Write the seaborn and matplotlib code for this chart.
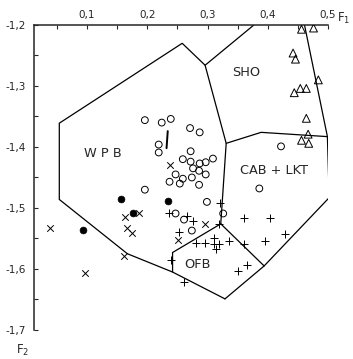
import numpy as np
import pandas as pd
import seaborn as sns
import matplotlib.pyplot as plt
from matplotlib.ticker import FixedLocator

# F1 - F2 discrimination diagram (WPB / SHO / CAB+LKT / OFB fields)

# ---- sample points ----
tri_f1 = [0.456, 0.476, 0.442, 0.446, 0.484, 0.444, 0.454, 0.464, 0.464, 0.467, 0.456, 0.468]
tri_f2 = [-1.207, -1.205, -1.246, -1.256, -1.290, -1.311, -1.304, -1.304, -1.353, -1.379, -1.389, -1.394]

open_f1 = [0.196, 0.224, 0.239, 0.271, 0.287, 0.219, 0.219, 0.272, 0.259, 0.272,
           0.287, 0.297, 0.309, 0.276, 0.286, 0.247, 0.297, 0.259, 0.274, 0.237,
           0.254, 0.286, 0.196, 0.422, 0.386, 0.299, 0.326, 0.247, 0.261, 0.274]
open_f2 = [-1.356, -1.360, -1.354, -1.369, -1.376, -1.396, -1.409, -1.407, -1.420, -1.424,
           -1.427, -1.425, -1.419, -1.435, -1.439, -1.445, -1.445, -1.452, -1.450, -1.457,
           -1.460, -1.462, -1.470, -1.399, -1.468, -1.490, -1.509, -1.509, -1.519, -1.537]

filled_f1 = [0.094, 0.156, 0.176, 0.234]
filled_f2 = [-1.536, -1.486, -1.508, -1.489]

cross_f1 = [0.039, 0.097, 0.163, 0.187, 0.167, 0.174, 0.162, 0.238, 0.296, 0.251]
cross_f2 = [-1.532, -1.606, -1.514, -1.509, -1.532, -1.541, -1.578, -1.429, -1.527, -1.552]

plus_f1 = [0.236, 0.266, 0.276, 0.320, 0.319, 0.252, 0.281, 0.296, 0.311, 0.311, 0.319,
           0.314, 0.336, 0.361, 0.404, 0.360, 0.395, 0.429, 0.351, 0.366, 0.261, 0.239]
plus_f2 = [-1.509, -1.513, -1.522, -1.492, -1.527, -1.539, -1.557, -1.558, -1.549, -1.559, -1.559,
           -1.567, -1.554, -1.517, -1.517, -1.559, -1.554, -1.542, -1.603, -1.593, -1.621, -1.586]

# odd little stroke next to the stacked circles
stroke_f1 = [0.234, 0.232]
stroke_f2 = [-1.374, -1.402]

# ---- field boundaries (polylines) ----
boundaries = [
    # outer left / top boundary, up to the axis
    ([0.329, 0.242, 0.167, 0.054, 0.054, 0.258, 0.296, 0.377],
     [-1.649, -1.605, -1.575, -1.486, -1.361, -1.230, -1.266, -1.200]),
    # WPB / SHO and WPB / CAB
    ([0.296, 0.331, 0.322], [-1.266, -1.394, -1.526]),
    # SHO / CAB
    ([0.331, 0.389, 0.499], [-1.394, -1.376, -1.383]),
    # outer right boundary
    ([0.461, 0.499, 0.502, 0.394, 0.329], [-1.200, -1.383, -1.483, -1.595, -1.649]),
    # CAB / OFB
    ([0.322, 0.394], [-1.526, -1.595]),
    # OFB / WPB
    ([0.322, 0.242, 0.242], [-1.526, -1.573, -1.605]),
]

field_names = ['W P B', 'SHO', 'CAB + LKT', 'OFB']
field_f1 = [0.127, 0.364, 0.411, 0.283]
field_f2 = [-1.410, -1.278, -1.438, -1.593]

xticks = [0.1, 0.2, 0.3, 0.4, 0.5]
xtick_labels = ['0,1', '0,2', '0,3', '0,4', '0,5']
yticks = [-1.2, -1.3, -1.4, -1.5, -1.6, -1.7]
ytick_labels = ['-1,2', '-1,3', '-1,4', '-1,5', '-1,6', '-1,7']

sns.set_style('ticks')
plt.rcParams['font.family'] = ['DejaVu Sans']

fig = plt.figure(figsize=(3.53, 3.59), dpi=100)
ax = fig.add_axes([0.0963, 0.0808, 0.8329, 0.8496])

for bx, by in boundaries:
    ax.plot(bx, by, color='black', lw=0.9, solid_joinstyle='miter')

# points
sns.scatterplot(x=tri_f1, y=tri_f2, marker='^', s=32, facecolors='none',
                edgecolor='black', color='black', linewidth=0.7, ax=ax, zorder=3)
sns.scatterplot(x=open_f1, y=open_f2, marker='o', s=24, facecolors='none',
                edgecolor='black', color='black', linewidth=0.7, ax=ax, zorder=3)
sns.scatterplot(x=filled_f1, y=filled_f2, marker='o', s=24, color='black',
                edgecolor='black', linewidth=0.5, ax=ax, zorder=3)
sns.scatterplot(x=cross_f1, y=cross_f2, marker='x', s=22, color='black',
                linewidth=0.7, ax=ax, zorder=3)
sns.scatterplot(x=plus_f1, y=plus_f2, marker='+', s=32, color='black',
                linewidth=0.7, ax=ax, zorder=3)
ax.plot(stroke_f1, stroke_f2, color='black', lw=1.4)

for name, fx, fy in zip(field_names, field_f1, field_f2):
    ax.text(fx, fy, name, ha='center', va='center', fontsize=9.3)

# axes: only top and left, ticks inward
ax.set_xlim(0.012, 0.5)
ax.set_ylim(-1.7, -1.2)
ax.xaxis.tick_top()
ax.spines['right'].set_visible(False)
ax.spines['bottom'].set_visible(False)
for s in ['top', 'left']:
    ax.spines[s].set_linewidth(1.1)
ax.set_xticks(xticks)
ax.set_xticklabels(xtick_labels)
ax.set_yticks(yticks)
ax.set_yticklabels(ytick_labels)
ax.xaxis.set_minor_locator(FixedLocator([0.05, 0.15, 0.25, 0.35, 0.45]))
ax.yaxis.set_minor_locator(FixedLocator([-1.25, -1.35, -1.45, -1.55, -1.65]))
ax.tick_params(axis='both', which='both', direction='in', length=3, width=0.8,
               labelsize=7.5)
ax.tick_params(axis='x', which='both', top=True, bottom=False, pad=3.5)
ax.tick_params(axis='y', which='both', left=True, right=False, pad=6)
ax.set_xlabel('')
ax.set_ylabel('')

fig.text(337 / 353, 1 - 18 / 359, r'$\mathrm{F}_1$', fontsize=8.5, ha='left', va='center')
fig.text(16 / 353, 1 - 350 / 359, r'$\mathrm{F}_2$', fontsize=8.5, ha='left', va='center')

plt.savefig('out.png', dpi=100)
